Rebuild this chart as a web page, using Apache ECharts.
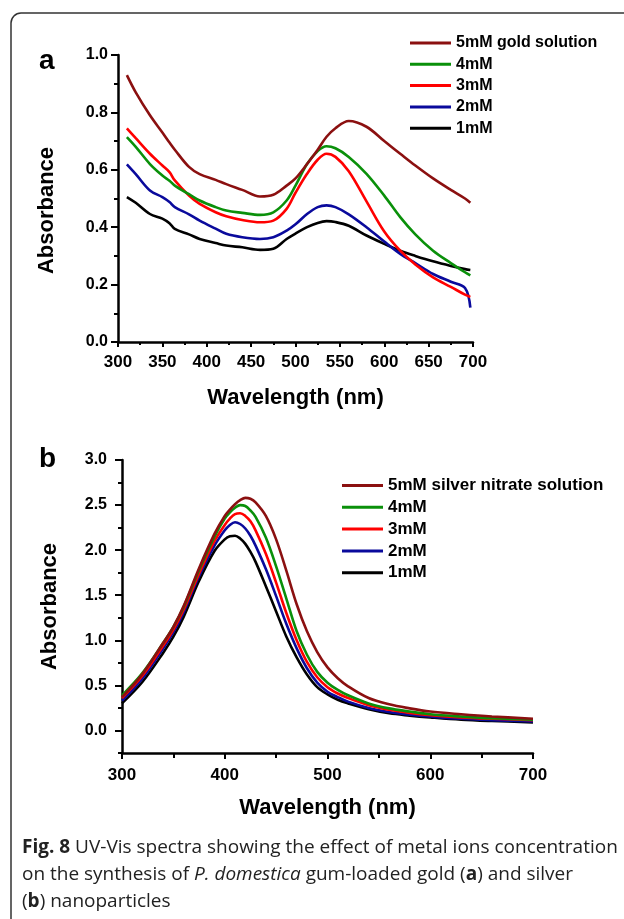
<!DOCTYPE html>
<html><head><meta charset="utf-8">
<script src="https://cdn.jsdelivr.net/npm/echarts@6/dist/echarts.min.js"></script>
<style>html,body{margin:0;padding:0;background:#fff}#c{width:624px;height:919px}</style>
</head><body><div id="c"></div>
<script>
// ---------- Panel a (gold) ----------
const wavelengthA = [310,320,336,350,358,364,380,392,410,422,440,460,475,490,500,513,525,535,545,560,580,600,618,635,655,675,691,697];
const gold5mM = [0.93,0.87,0.79,0.73,0.695,0.67,0.61,0.585,0.565,0.55,0.53,0.507,0.513,0.545,0.57,0.62,0.67,0.715,0.745,0.77,0.75,0.70,0.656,0.615,0.57,0.53,0.50,0.485];
const gold4mM = [0.714,0.68,0.62,0.58,0.562,0.545,0.515,0.493,0.47,0.458,0.45,0.443,0.452,0.493,0.545,0.62,0.665,0.682,0.675,0.645,0.586,0.51,0.435,0.375,0.318,0.275,0.243,0.232];
const gold3mM = [0.744,0.71,0.656,0.615,0.592,0.563,0.51,0.481,0.452,0.438,0.425,0.417,0.423,0.464,0.52,0.586,0.635,0.656,0.645,0.595,0.49,0.385,0.318,0.27,0.225,0.192,0.165,0.157];
const gold2mM = [0.619,0.585,0.528,0.505,0.488,0.47,0.445,0.423,0.395,0.377,0.365,0.359,0.365,0.388,0.41,0.446,0.47,0.476,0.47,0.445,0.40,0.35,0.307,0.275,0.237,0.21,0.188,0.12];
const gold1mM = [0.505,0.485,0.446,0.43,0.414,0.394,0.375,0.359,0.345,0.336,0.33,0.321,0.325,0.359,0.378,0.40,0.415,0.421,0.418,0.405,0.371,0.342,0.318,0.30,0.281,0.265,0.254,0.251];
const namesA = ['5mM gold solution','4mM','3mM','2mM','1mM'];
const xTicksA = {min:300, max:700, step:50};
const yTicksA = {min:0, max:1.0, step:0.2};

// ---------- Panel b (silver) ----------
const wavelengthB = [300,320,340,350,360,375,390,400,405,410,415,420,425,430,440,450,460,470,480,490,500,510,520,540,560,580,600,630,660,700];
const silver5mM = [0.37,0.63,0.97,1.15,1.38,1.80,2.18,2.38,2.45,2.51,2.555,2.58,2.57,2.53,2.38,2.12,1.77,1.40,1.10,0.87,0.70,0.58,0.49,0.36,0.29,0.245,0.21,0.18,0.155,0.13];
const silver4mM = [0.39,0.64,0.97,1.15,1.37,1.78,2.15,2.35,2.42,2.47,2.50,2.49,2.44,2.37,2.14,1.82,1.46,1.10,0.84,0.65,0.53,0.45,0.39,0.30,0.245,0.21,0.18,0.155,0.135,0.12];
const silver3mM = [0.36,0.61,0.94,1.12,1.34,1.74,2.10,2.28,2.35,2.40,2.41,2.38,2.32,2.22,1.96,1.64,1.30,1.00,0.76,0.59,0.48,0.41,0.36,0.28,0.23,0.195,0.17,0.145,0.13,0.115];
const silver2mM = [0.33,0.58,0.91,1.09,1.31,1.71,2.05,2.22,2.28,2.31,2.29,2.24,2.16,2.05,1.79,1.49,1.18,0.91,0.69,0.53,0.43,0.37,0.32,0.25,0.205,0.175,0.155,0.13,0.115,0.10];
const silver1mM = [0.30,0.54,0.86,1.04,1.26,1.66,1.99,2.12,2.155,2.16,2.13,2.07,1.98,1.87,1.60,1.32,1.04,0.81,0.62,0.48,0.40,0.34,0.30,0.235,0.19,0.165,0.145,0.12,0.105,0.09];
const namesB = ['5mM silver nitrate solution','4mM','3mM','2mM','1mM'];
const yLabelTicksB = [0,0.5,1.0,1.5,2.0,2.5,3.0];
const yMinorTicksB = [-0.25,0.25,0.75,1.25,1.75,2.25,2.75];

const colors = ['#8b1010','#0a900a','#ff0000','#0a0a9c','#000000'];
const FONT = '"Liberation Sans", Arial, sans-serif';

function pairs(xs, ys){ return xs.map((x,i)=>[x, ys[i]]); }

const seriesA = [gold5mM,gold4mM,gold3mM,gold2mM,gold1mM];
const seriesB = [silver5mM,silver4mM,silver3mM,silver2mM,silver1mM];

const series = [];
for (let i = 4; i >= 0; i--) {
  series.push({type:'line', name:namesA[i], xAxisIndex:0, yAxisIndex:0, data:pairs(wavelengthA, seriesA[i]),
    showSymbol:false, symbol:'none', smooth:0.35, lineStyle:{color:colors[i], width:2.6}, itemStyle:{color:colors[i]}, silent:true});
}
for (let i = 4; i >= 0; i--) {
  series.push({type:'line', name:namesB[i], xAxisIndex:1, yAxisIndex:1, data:pairs(wavelengthB, seriesB[i]),
    showSymbol:false, symbol:'none', smooth:0.35, lineStyle:{color:colors[i], width:2.6}, itemStyle:{color:colors[i]}, silent:true});
}

const axisLine = {show:true, onZero:false, lineStyle:{color:'#000', width:2.5}};
const xLbl = {color:'#000', fontWeight:'bold', fontSize:17, fontFamily:FONT};
const yLbl = {color:'#000', fontWeight:'bold', fontSize:16, fontFamily:FONT};
const nameStyle = {color:'#000', fontWeight:'bold', fontSize:22, fontFamily:FONT};
const capFont = '"Open Sans"';
const CAP = 19;

const chart = echarts.init(document.getElementById('c'), null, {renderer:'canvas'});
chart.setOption({
  animation:false,
  backgroundColor:'#fff',
  grid:[
    {left:118, top:55, width:355, height:287},
    {left:122, top:460, width:411, height:293}
  ],
  xAxis:[
    {type:'value', gridIndex:0, min:xTicksA.min, max:xTicksA.max, interval:xTicksA.step,
     axisLine:axisLine, axisTick:{show:true, length:5, lineStyle:{color:'#000', width:2}},
     minorTick:{show:true, splitNumber:2, length:3, lineStyle:{color:'#000', width:2}},
     splitLine:{show:false}, minorSplitLine:{show:false},
     axisLabel:Object.assign({margin:12}, xLbl),
     name:'Wavelength (nm)', nameLocation:'middle', nameGap:45, nameTextStyle:nameStyle},
    {type:'value', gridIndex:1, min:300, max:700, interval:100,
     axisLine:axisLine, axisTick:{show:true, length:6, lineStyle:{color:'#000', width:2}},
     minorTick:{show:true, splitNumber:2, length:5, lineStyle:{color:'#000', width:2}},
     splitLine:{show:false}, minorSplitLine:{show:false},
     axisLabel:Object.assign({margin:14}, xLbl),
     name:'Wavelength (nm)', nameLocation:'middle', nameGap:44, nameTextStyle:nameStyle}
  ],
  yAxis:[
    {type:'value', gridIndex:0, min:yTicksA.min, max:yTicksA.max, interval:yTicksA.step,
     axisLine:axisLine, axisTick:{show:true, length:7, lineStyle:{color:'#000', width:2}},
     minorTick:{show:true, splitNumber:2, length:4, lineStyle:{color:'#000', width:2}},
     splitLine:{show:false}, minorSplitLine:{show:false},
     axisLabel:Object.assign({margin:10, formatter:v=>v.toFixed(1)}, yLbl),
     name:'Absorbance', nameLocation:'middle', nameGap:60, nameRotate:90,
     nameTextStyle:Object.assign({padding:[0,24,0,0]}, nameStyle)},
    {type:'value', gridIndex:1, min:-0.25, max:3.0,
     axisLine:axisLine,
     axisTick:{show:true, length:7, customValues:yLabelTicksB, lineStyle:{color:'#000', width:2}},
     splitLine:{show:false},
     axisLabel:Object.assign({margin:15, customValues:yLabelTicksB, formatter:v=>v.toFixed(1)}, yLbl),
     name:'Absorbance', nameLocation:'middle', nameGap:61, nameRotate:90, nameTextStyle:nameStyle},
    {type:'value', gridIndex:1, min:-0.25, max:3.0, position:'left',
     axisLine:{show:false},
     axisTick:{show:true, length:4, customValues:yMinorTicksB, lineStyle:{color:'#000', width:2}},
     splitLine:{show:false},
     axisLabel:{show:false}}
  ],
  legend:[
    {data:namesA, orient:'vertical', left:410, top:34, padding:0, icon:'rect', itemWidth:41, itemHeight:3, itemGap:3.3,
     textStyle:{color:'#000', fontWeight:'bold', fontSize:16, fontFamily:FONT, lineHeight:18}, selectedMode:false},
    {data:namesB, orient:'vertical', left:342, top:476, padding:0, icon:'rect', itemWidth:41, itemHeight:3, itemGap:2.8,
     textStyle:{color:'#000', fontWeight:'bold', fontSize:17, fontFamily:FONT, lineHeight:19}, selectedMode:false}
  ],
  series:series,
  graphic:[
    {type:'rect', silent:true, shape:{x:11, y:13, width:700, height:1000, r:10}, style:{fill:'none', stroke:'#333', lineWidth:1.5}},
    {type:'text', silent:true, x:39, y:47, style:{text:'a', fill:'#000', font:'bold 28px '+FONT, textBaseline:'alphabetic'}},
    {type:'text', silent:true, x:39, y:445, style:{text:'b', fill:'#000', font:'bold 28px '+FONT, textBaseline:'alphabetic'}},
    {type:'text', silent:true, x:22, y:848, style:{
      text:'{b|Fig. 8} {n|UV-Vis spectra showing the effect of metal ions concentration}',
      verticalAlign:'middle',
      rich:{b:{fontWeight:'bold', fontSize:CAP, fontFamily:capFont, fill:'#222'},
            n:{fontSize:CAP, fontFamily:capFont, fill:'#222'}},
      font:CAP+'px '+capFont, fill:'#222'}},
    {type:'text', silent:true, x:22, y:875, style:{
      text:'{n|on the synthesis of }{i|P. domestica}{n| gum-loaded gold (}{b|a}{n|) and silver}',
      verticalAlign:'middle',
      rich:{b:{fontWeight:'bold', fontSize:CAP, fontFamily:capFont, fill:'#222'},
            i:{fontStyle:'italic', fontSize:CAP, fontFamily:capFont, fill:'#222'},
            n:{fontSize:CAP, fontFamily:capFont, fill:'#222'}},
      font:CAP+'px '+capFont, fill:'#222'}},
    {type:'text', silent:true, x:22, y:902, style:{
      text:'{n|(}{b|b}{n|) nanoparticles}',
      verticalAlign:'middle',
      rich:{b:{fontWeight:'bold', fontSize:CAP, fontFamily:capFont, fill:'#222'},
            n:{fontSize:CAP, fontFamily:capFont, fill:'#222'}},
      font:CAP+'px '+capFont, fill:'#222'}}
  ]
});
</script>
</body></html>
